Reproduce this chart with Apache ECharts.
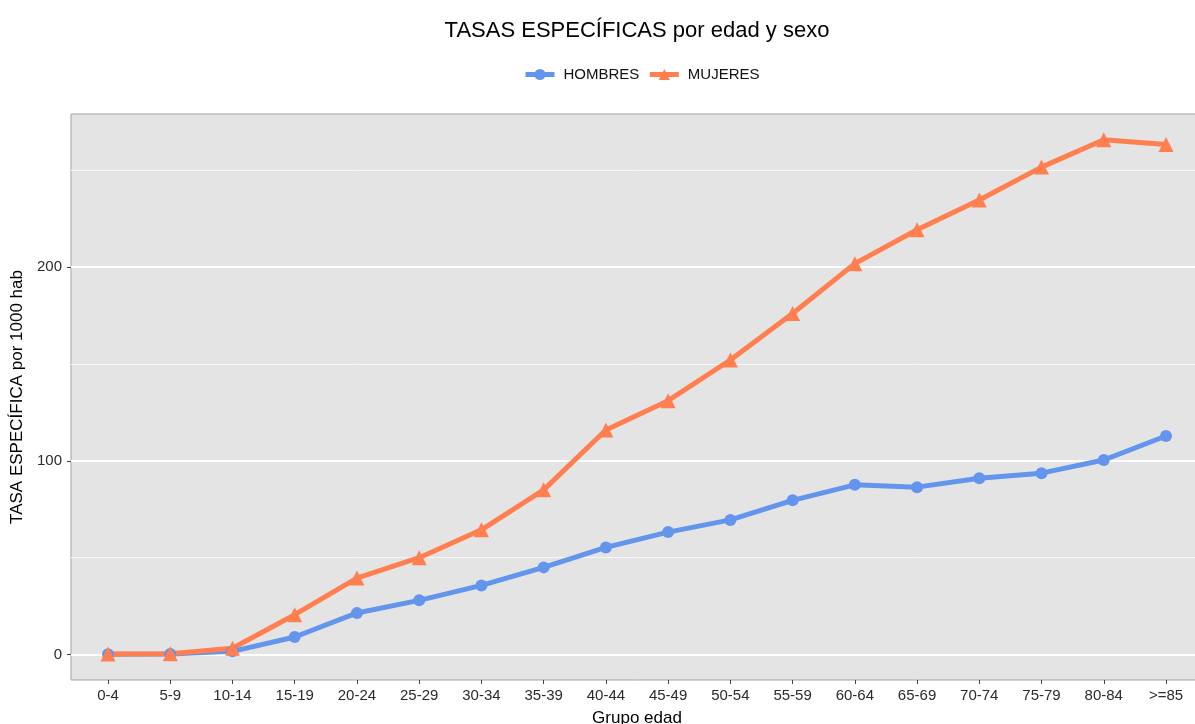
<!DOCTYPE html>
<html>
<head>
<meta charset="utf-8">
<script src="https://cdn.jsdelivr.net/npm/echarts@6/dist/echarts.min.js"></script>
<style>
  html, body { margin: 0; padding: 0; background: #fff; }
  #chart { width: 1195px; height: 724px; }
</style>
</head>
<body>
<div id="chart"></div>
<script>
var grupos = ['0-4', '5-9', '10-14', '15-19', '20-24', '25-29', '30-34', '35-39', '40-44',
              '45-49', '50-54', '55-59', '60-64', '65-69', '70-74', '75-79', '80-84', '>=85'];
var hombres = [0.2, 0.3, 1.7, 9.1, 21.5, 28, 35.7, 45, 55.3, 63.2, 69.5, 79.6, 87.6, 86.4, 91, 93.6, 100.4, 112.8];
var mujeres = [0.3, 0.5, 3.3, 20.6, 39.5, 50, 64.4, 85, 115.9, 131, 152, 176, 201.7, 219.2, 234.5, 251.5, 265.6, 263.2];
var yTicks = [0, 100, 200];
var yMin = -13.1, yMax = 278.9;

var FONT = '"Liberation Sans", Arial, sans-serif';

var dom = document.getElementById('chart');
var myChart = echarts.init(dom, null, { renderer: 'canvas' });

var option = {
  animation: false,
  textStyle: { fontFamily: FONT },
  title: {
    text: 'TASAS ESPECÍFICAS por edad y sexo',
    left: 632, top: 15, textAlign: 'center',
    textStyle: { fontFamily: FONT, fontSize: 22, fontWeight: 'normal', color: '#000' }
  },
  legend: {
    data: ['HOMBRES', 'MUJERES'],
    left: 518, top: 62,
    itemWidth: 29, itemHeight: 14, itemGap: 8,
    lineStyle: { width: 5 },
    textStyle: { fontFamily: FONT, fontSize: 15, color: '#111', padding: [0, 0, 0, 4] }
  },
  grid: [
    // panel (ggplot extends past the right edge of the picture)
    { left: 71, right: -8, top: 114, bottom: 44, show: true, outerBoundsMode: 'none',
      backgroundColor: '#e4e4e4', borderColor: '#a3a3a3', borderWidth: 1 },
    // data area: category centres placed like the ggplot discrete scale
    { left: 76.9, right: -2.1, top: 114, bottom: 44, outerBoundsMode: 'none' }
  ],
  xAxis: [
    { gridIndex: 0, type: 'value', show: false, min: 0, max: 1 },
    {
      gridIndex: 1, type: 'category', data: grupos, boundaryGap: true, position: 'bottom',
      name: 'Grupo edad', nameLocation: 'middle', nameGap: 30,
      nameTextStyle: { fontFamily: FONT, fontSize: 17, color: '#000' },
      axisLine: { show: false, onZero: false },
      axisTick: { show: true, alignWithLabel: true, length: 4, lineStyle: { color: '#444' } },
      axisLabel: { margin: 8, fontFamily: FONT, fontSize: 15, color: '#2b2b2b', interval: 0 },
      splitLine: { show: false }
    }
  ],
  yAxis: [
    { // minor grid lines
      gridIndex: 0, type: 'value', position: 'left', min: yMin, max: yMax,
      minInterval: 50, maxInterval: 50,
      axisLine: { show: false }, axisTick: { show: false }, axisLabel: { show: false },
      splitLine: { show: true, showMinLine: false, showMaxLine: false,
                   lineStyle: { color: '#f6f6f6', width: 1 } }
    },
    { // major grid lines + labels
      gridIndex: 0, type: 'value', position: 'left', min: yMin, max: yMax,
      minInterval: 100, maxInterval: 100,
      name: 'TASA ESPECÍFICA por 1000 hab', nameLocation: 'middle', nameGap: 37,
      nameTextStyle: { fontFamily: FONT, fontSize: 17, color: '#000' },
      axisLine: { show: false, onZero: false },
      axisTick: { show: true, length: 4, lineStyle: { color: '#444' } },
      axisLabel: {
        margin: 9, fontFamily: FONT, fontSize: 15, color: '#2b2b2b',
        showMinLabel: false, showMaxLabel: false,
        formatter: function (v) { return yTicks.indexOf(v) >= 0 ? String(v) : ''; }
      },
      splitLine: { show: true, showMinLine: false, showMaxLine: false,
                   lineStyle: { color: '#ffffff', width: 2 } }
    },
    { gridIndex: 1, type: 'value', min: yMin, max: yMax, show: false, splitLine: { show: false } }
  ],
  series: [
    {
      name: 'HOMBRES', type: 'line', xAxisIndex: 1, yAxisIndex: 2,
      data: hombres,
      symbol: 'circle', symbolSize: 12, showAllSymbol: true,
      itemStyle: { color: '#6495ED' },
      lineStyle: { color: '#6495ED', width: 5 }
    },
    {
      name: 'MUJERES', type: 'line', xAxisIndex: 1, yAxisIndex: 2,
      data: mujeres,
      symbol: 'triangle', symbolSize: 15, showAllSymbol: true,
      itemStyle: { color: '#FF7F50' },
      lineStyle: { color: '#FF7F50', width: 5 }
    }
  ]
};

myChart.setOption(option);
window.addEventListener('resize', myChart.resize);
</script>
</body>
</html>
